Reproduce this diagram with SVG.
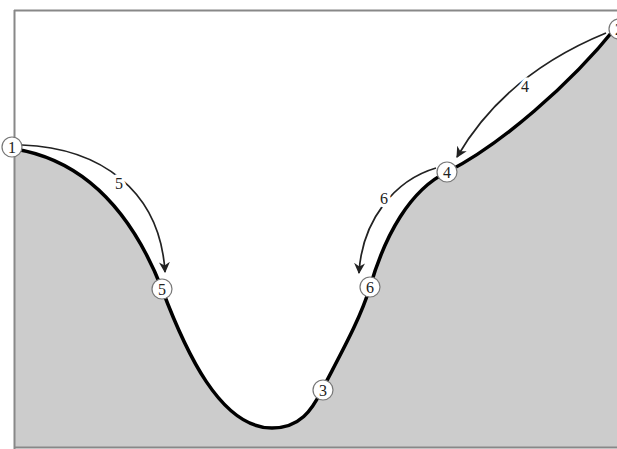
<svg xmlns="http://www.w3.org/2000/svg" width="617" height="449" viewBox="0 0 617 449">
<style>
.node circle{fill:#fff;stroke:#777;stroke-width:1.2}
.node text,.lbl{font-family:"Liberation Serif",serif;font-size:16px;fill:#222;text-anchor:middle;dominant-baseline:central}
.lbl{stroke:#fff;stroke-width:7;paint-order:stroke;stroke-linejoin:round}
.arr{fill:none;stroke:#222;stroke-width:1.7;marker-end:url(#ah)}
</style>
<defs>
<marker id="ah" viewBox="0 0 10 10" refX="9" refY="5" markerWidth="11" markerHeight="11" orient="auto" markerUnits="userSpaceOnUse">
<path d="M0,0 L10,5 L0,10 L3,5 Z" fill="#222"/>
</marker>
</defs>
<rect width="617" height="449" fill="#fff"/>
<path id="ground" d="M15,149 C70,158 125,195 162,289 C185,350 220,428 272,428 C300,428 312,410 322,390 C340,355 360,320 370,287 C385,235 410,190 447,172 C500,145 570,85 617,26 L617,447 L15,447 Z" fill="#cccccc"/>
<path d="M14.5,10 V449 M14,10.5 H617 M14,447.5 H617" fill="none" stroke="#888" stroke-width="2"/>
<path id="slope" d="M15,149 C70,158 125,195 162,289 C185,350 220,428 272,428 C300,428 312,410 322,390 C340,355 360,320 370,287 C385,235 410,190 447,172 C500,145 570,85 617,26" fill="none" stroke="#000" stroke-width="3.5"/>
<g id="connectors">
<path class="arr" d="M22,145 C100,148 160,190 165,272"/>
<text class="lbl" x="119" y="183">5</text>
<path class="arr" d="M606,33 C540,60 490,100 457,157"/>
<text class="lbl" x="525" y="86">4</text>
<path class="arr" d="M436,168 C395,180 362,220 359,273"/>
<text class="lbl" x="384" y="198">6</text>
</g>
<g id="n1" class="node"><circle cx="12" cy="147" r="10"/><text x="12" y="147">1</text></g>
<g id="n2" class="node"><circle cx="619" cy="29" r="10"/><text x="619" y="29">2</text></g>
<g id="n3" class="node"><circle cx="323" cy="390" r="10"/><text x="323" y="390">3</text></g>
<g id="n4" class="node"><circle cx="447" cy="172" r="10"/><text x="447" y="172">4</text></g>
<g id="n5" class="node"><circle cx="162" cy="289" r="10"/><text x="162" y="289">5</text></g>
<g id="n6" class="node"><circle cx="370" cy="287" r="10"/><text x="370" y="287">6</text></g>
</svg>
